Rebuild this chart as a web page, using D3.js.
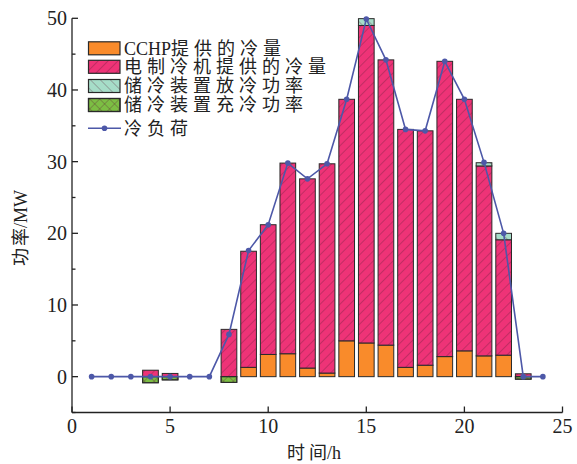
<!DOCTYPE html>
<html>
<head>
<meta charset="utf-8">
<script src="https://cdn.jsdelivr.net/npm/d3@7"></script>
<style>
  body { margin: 0; background: #fff; }
  svg text { font-family: "Liberation Serif", "Noto Sans CJK SC", serif; fill: #222; }
</style>
</head>
<body>
<div id="chart"></div>
<script>
// data
const hours = [1, 2, 3, 4, 5, 6, 7, 8, 9, 10, 11, 12, 13, 14, 15, 16, 17, 18, 19, 20, 21, 22, 23, 24];
const cchp = [0, 0, 0, 0, 0, 0, 0, 0, 1.3, 3.1, 3.2, 1.2, 0.5, 5.0, 4.7, 4.4, 1.3, 1.6, 2.8, 3.6, 2.9, 3.0, 0, 0];
const electric = [0, 0, 0, 0.9, 0.45, 0, 0, 6.6, 16.2, 18.1, 26.6, 26.4, 29.2, 33.7, 44.3, 39.8, 33.2, 32.7, 41.2, 35.1, 26.5, 16.1, 0.4, 0];
const discharge = [0, 0, 0, 0, 0, 0, 0, 0, 0, 0, 0, 0, 0, 0, 0.95, 0, 0, 0, 0, 0, 0.45, 0.9, 0, 0];
const charge = [0, 0, 0, -0.85, -0.45, 0, 0, -0.8, 0, 0, 0, 0, 0, 0, 0, 0, 0, 0, 0, 0, 0, 0, -0.35, 0];
const load = [0, 0, 0, 0, 0, 0, 0, 5.9, 17.6, 21.2, 29.8, 27.6, 29.7, 38.7, 49.9, 44.2, 34.5, 34.3, 44.0, 38.7, 29.9, 20.0, 0, 0];

const xTicks = [0, 5, 10, 15, 20, 25];
const yTicks = [0, 10, 20, 30, 40, 50];
const yMinor = [-5, 5, 15, 25, 35, 45];
const legendLabels = ['CCHP提供的冷量', '电制冷机提供的冷量', '储冷装置放冷功率', '储冷装置充冷功率', '冷负荷'];

const ORANGE = '#F98B2B';
const PINK = '#EE3377';
const TEAL = '#A6DDC8';
const GREEN = '#7CBE43';
const LINE = '#4D58A8';
const BAR_W = 0.8;

const W = 577, H = 464;
const svg = d3.select('#chart').append('svg').attr('width', W).attr('height', H);

const x = d3.scaleLinear().domain([0, 25]).range([72, 562.5]);
const y = d3.scaleLinear().domain([-5, 50]).range([412.5, 18.3]);

// writes mixed text: CJK chars get extra spacing like the Song font in the original
// (no extra spacing after a CJK char that is followed by latin text)
function mixedText(sel, str, cjkSpacing) {
    const runs = str.match(/[\u4e00-\u9fff]+|[^\u4e00-\u9fff]+/g);
    runs.forEach((run, k) => {
        if (/[\u4e00-\u9fff]/.test(run)) {
            const last = k < runs.length - 1 ? run.length - 1 : run.length;
            sel.append('tspan').attr('letter-spacing', cjkSpacing).text(run.slice(0, last));
            if (last < run.length) sel.append('tspan').text(run.slice(last));
        } else {
            sel.append('tspan').text(run);
        }
    });
    return sel;
}

// hatch patterns
const defs = svg.append('defs');
function hatch(id, fill, angles) {
    angles.forEach((a, i) => {
        const p = defs.append('pattern')
            .attr('id', id + (i ? '_' + i : ''))
            .attr('patternUnits', 'userSpaceOnUse')
            .attr('width', 7).attr('height', 7)
            .attr('patternTransform', `rotate(${a})`);
        if (i === 0) p.append('rect').attr('width', 7).attr('height', 7).attr('fill', fill);
        p.append('line').attr('x1', 0).attr('y1', 0).attr('x2', 0).attr('y2', 7)
            .attr('stroke', '#5a1a33').attr('stroke-width', 0.8).attr('opacity', 0.75);
    });
}
hatch('pPink', PINK, [45]);
hatch('pTeal', TEAL, [-45]);
hatch('pGreen', GREEN, [45, -45]);

// green cross: base + second overlay pattern
const fills = {
    cchp: [ORANGE],
    electric: ['url(#pPink)'],
    discharge: ['url(#pTeal)'],
    charge: ['url(#pGreen)', 'url(#pGreen_1)']
};

const rows = hours.map((h, i) => ({
    h,
    segs: [
        { key: 'cchp', y0: 0, y1: cchp[i] },
        { key: 'electric', y0: cchp[i], y1: cchp[i] + electric[i] },
        { key: 'discharge', y0: cchp[i] + electric[i], y1: cchp[i] + electric[i] + discharge[i] },
        { key: 'charge', y0: charge[i], y1: 0 }
    ].filter(s => s.y1 - s.y0 > 0)
}));

const bars = svg.append('g');
rows.forEach(r => {
    r.segs.forEach(s => {
        fills[s.key].forEach(f => {
            bars.append('rect')
                .attr('x', x(r.h - BAR_W / 2))
                .attr('width', x(BAR_W) - x(0))
                .attr('y', y(s.y1))
                .attr('height', y(s.y0) - y(s.y1))
                .attr('fill', f)
                .attr('stroke', '#2a2a2a')
                .attr('stroke-width', 1);
        });
    });
});

// axes
const axis = svg.append('g').attr('stroke', '#222').attr('stroke-width', 1.3);
axis.append('line').attr('x1', x(0)).attr('x2', x(0)).attr('y1', y(50)).attr('y2', y(-5));
axis.append('line').attr('x1', x(0)).attr('x2', x(25)).attr('y1', y(-5)).attr('y2', y(-5));
yTicks.forEach(t => axis.append('line').attr('x1', x(0)).attr('x2', x(0) + 6).attr('y1', y(t)).attr('y2', y(t)));
yMinor.forEach(t => axis.append('line').attr('x1', x(0)).attr('x2', x(0) + 3.5).attr('y1', y(t)).attr('y2', y(t)));
xTicks.forEach(t => axis.append('line').attr('x1', x(t)).attr('x2', x(t)).attr('y1', y(-5)).attr('y2', y(-5) - 6));

svg.append('g').selectAll('text').data(yTicks).join('text')
    .attr('x', x(0) - 5).attr('y', d => y(d)).attr('dy', '0.35em')
    .attr('text-anchor', 'end').attr('font-size', 20).text(d => d);
svg.append('g').selectAll('text').data(xTicks).join('text')
    .attr('x', d => x(d)).attr('y', 433)
    .attr('text-anchor', 'middle').attr('font-size', 20).text(d => d);

mixedText(svg.append('text').attr('x', 287).attr('y', 459).attr('font-size', 18), '时间/h', 4);
mixedText(svg.append('text').attr('transform', 'translate(27,266) rotate(-90)').attr('font-size', 18), '功率/MW', 2);

// load line
svg.append('path')
    .datum(hours.map((h, i) => [h, load[i]]))
    .attr('fill', 'none').attr('stroke', LINE).attr('stroke-width', 1.6)
    .attr('d', d3.line().x(d => x(d[0])).y(d => y(d[1])));
svg.append('g').selectAll('circle').data(hours).join('circle')
    .attr('cx', d => x(d)).attr('cy', (d, i) => y(load[i]))
    .attr('r', 2.8).attr('fill', LINE);

// legend
const lg = svg.append('g');
const legendFills = [[ORANGE], ['url(#pPink)'], ['url(#pTeal)'], ['url(#pGreen)', 'url(#pGreen_1)']];
const rowY = [48.3, 66.8, 86, 105, 128.3];
legendLabels.forEach((lab, i) => {
    const cy = rowY[i];
    if (i < 4) {
        legendFills[i].forEach(f => {
            lg.append('rect').attr('x', 88.5).attr('y', cy - 6.5).attr('width', 31.5).attr('height', 13)
                .attr('fill', f).attr('stroke', '#2a2a2a').attr('stroke-width', 1.2);
        });
    } else {
        lg.append('line').attr('x1', 88).attr('x2', 121).attr('y1', cy).attr('y2', cy)
            .attr('stroke', LINE).attr('stroke-width', 1.6);
        lg.append('circle').attr('cx', 104.5).attr('cy', cy).attr('r', 2.8).attr('fill', LINE);
    }
    mixedText(lg.append('text').attr('x', 124).attr('y', cy).attr('dy', '0.36em').attr('font-size', 18), lab, 5);
});
</script>
</body>
</html>
